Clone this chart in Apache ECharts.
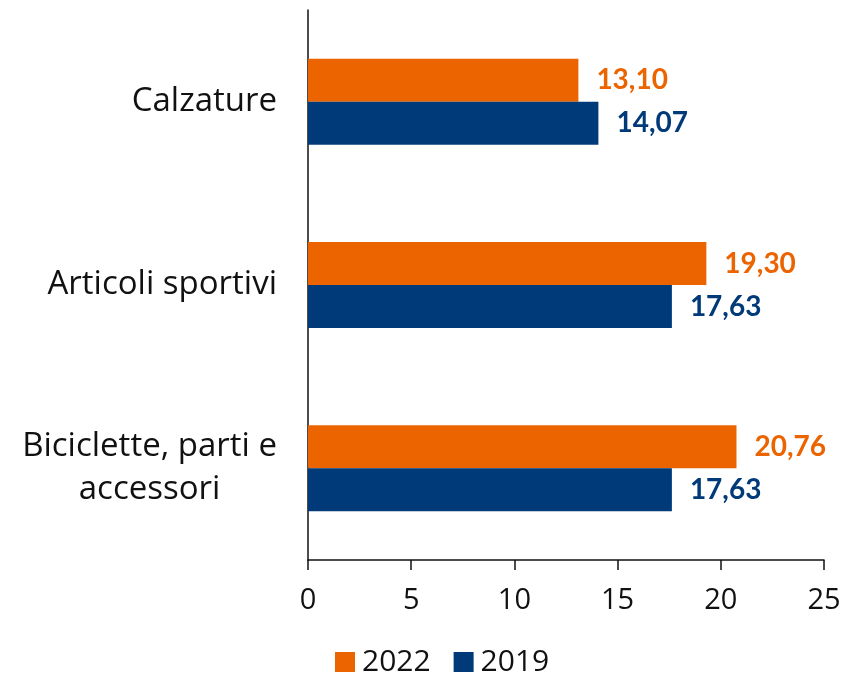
<!DOCTYPE html>
<html><head><meta charset="utf-8">
<script src="https://cdn.jsdelivr.net/npm/echarts@6/dist/echarts.min.js"></script>
<style>html,body{margin:0;padding:0;background:#fff}#c{width:844px;height:675px}</style>
</head><body><div id="c"></div>
<script>
const categories = ["Calzature", "Articoli sportivi", "Biciclette, parti e\naccessori"];
const values2022 = [13.10, 19.30, 20.76];
const values2019 = [14.07, 17.63, 17.63];
const seriesNames = ["2022", "2019"];
const colors = ["#EB6400", "#003A78"];
const FONT = "Open Sans";
const BOLD = "Lato";
const chart = echarts.init(document.getElementById('c'));
const fmt = p => p.value.toFixed(2).replace('.', ',');
chart.setOption({
  animation: false,
  textStyle: {fontFamily: FONT},
  grid: {left: 308, right: 20, top: 10, bottom: 115, containLabel: false},
  legend: {
    top: 642, left: 330, itemWidth: 20, itemHeight: 20, itemGap: 23,
    icon: 'rect',
    textStyle: {fontSize: 30, color: '#111', fontFamily: FONT, padding: [0, 0, 0, 2]},
    data: seriesNames
  },
  xAxis: {
    type: 'value', min: 0, max: 25, interval: 5,
    axisLine: {show: true, lineStyle: {color: '#111', width: 1.5}},
    axisTick: {show: true, length: 10, lineStyle: {color: '#111', width: 1.5}},
    axisLabel: {fontSize: 29, color: '#111', margin: 26, fontFamily: FONT},
    splitLine: {show: false}
  },
  yAxis: {
    type: 'category', data: categories, inverse: true,
    axisLine: {show: true, lineStyle: {color: '#111', width: 1.5}},
    axisTick: {show: false},
    axisLabel: {
      color: '#111', margin: 31, align: 'right',
      formatter: v => v.split('\n').map(s => '{a|' + s + '}').join('\n'),
      rich: {a: {fontSize: 33, lineHeight: 43, align: 'center', color: '#111', fontFamily: FONT}}
    }
  },
  series: [
    {name: seriesNames[0], type: 'bar', data: values2022, barWidth: 43, barGap: '0%',
     itemStyle: {color: colors[0]},
     label: {show: true, position: 'right', distance: 18, formatter: fmt, fontSize: 28, fontWeight: 'bold', color: colors[0], fontFamily: BOLD}},
    {name: seriesNames[1], type: 'bar', data: values2019, barWidth: 43, barGap: '0%',
     itemStyle: {color: colors[1]},
     label: {show: true, position: 'right', distance: 18, formatter: fmt, fontSize: 28, fontWeight: 'bold', color: colors[1], fontFamily: BOLD}}
  ]
});
</script></body></html>
